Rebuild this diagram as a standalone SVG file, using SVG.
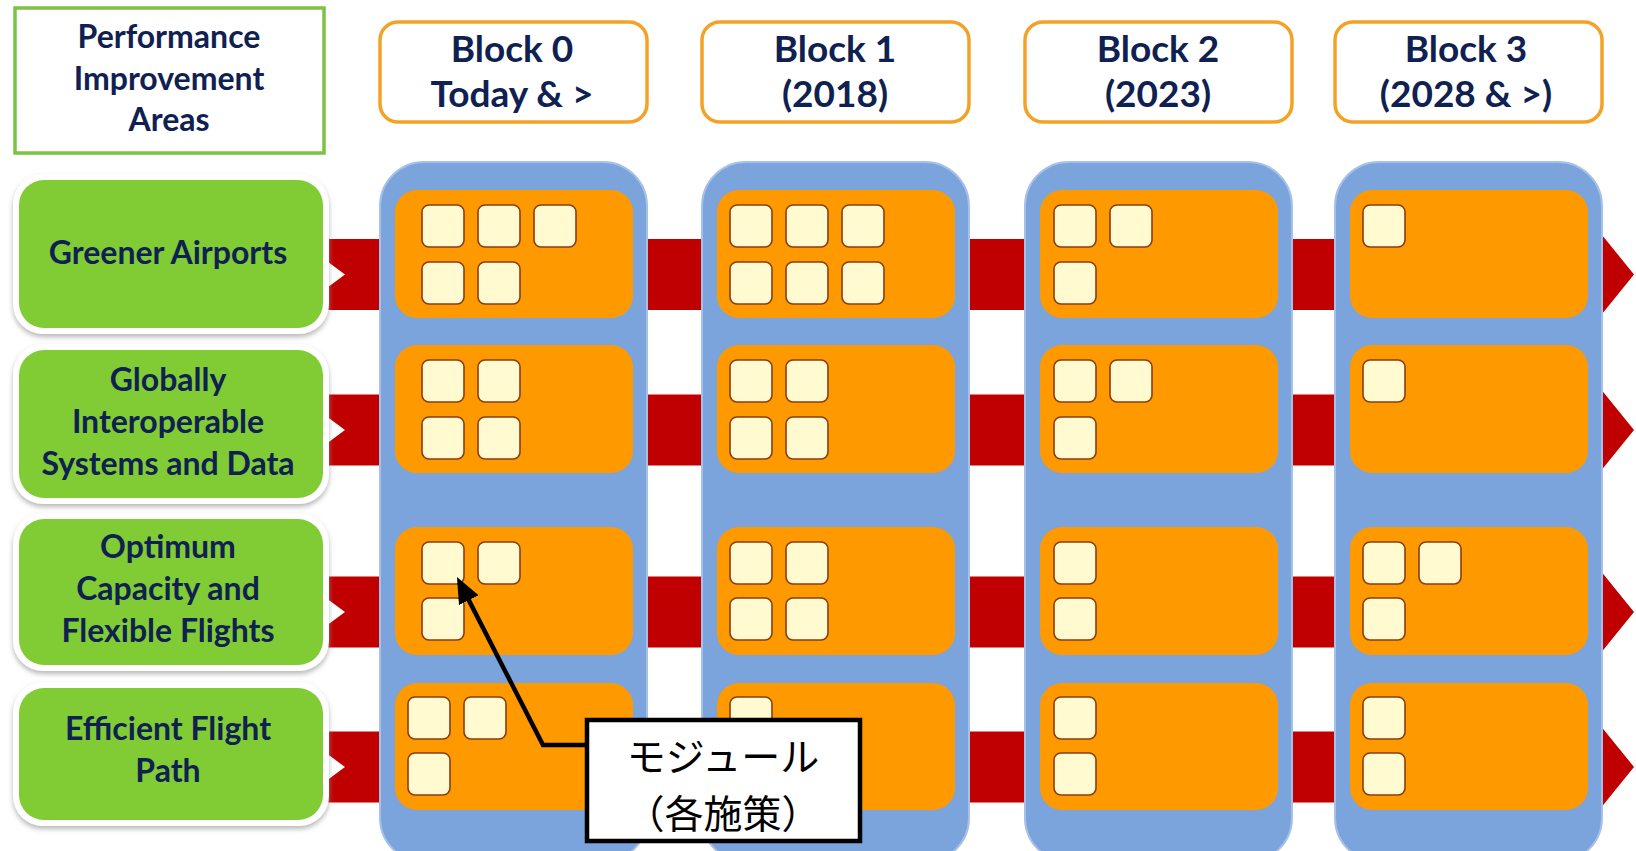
<svg xmlns="http://www.w3.org/2000/svg" xmlns:xlink="http://www.w3.org/1999/xlink" width="1636" height="851" viewBox="0 0 1636 851">
<defs>
<style>
.band{fill:#c00000}
.col{fill:#7ba4dd;stroke:#a6c1e8;stroke-width:2}
.panel{fill:#ff9900}
.hdr{fill:#ffffff;stroke:#f3a226;stroke-width:3.5}
.area{fill:#81cc35}
.rim{fill:#ffffff;filter:url(#sh)}
.t{font-family:Lato,"Open Sans","Liberation Sans",sans-serif;font-weight:700;fill:#0f2150;text-anchor:middle}
.lbl{font-size:32px}
.hd{font-size:37px}
.jp{font-family:"Noto Sans CJK JP","Noto Sans",sans-serif;font-size:39px;fill:#000;text-anchor:middle}
</style>
<filter id="sh" x="-10%" y="-10%" width="120%" height="125%">
<feDropShadow dx="0" dy="3" stdDeviation="2.5" flood-color="#9a9a9a" flood-opacity="0.7"/>
</filter>
<rect id="m" x="0" y="0" width="42" height="42" rx="7" fill="#fffad0" stroke="#8a3d12" stroke-width="1.6"/>
<marker id="ah" markerUnits="userSpaceOnUse" markerWidth="28" markerHeight="24" refX="11" refY="11" orient="auto">
<path d="M0,0 L26,11 L0,22 Z" fill="#000"/>
</marker>
</defs>
<rect width="1636" height="851" fill="#ffffff"/>

<g id="connectors">
<path class="band" d="M297,239 L1602,239 L1602,235 L1634,274.5 L1602,314 L1602,310 L297,310 L345,274.5 Z"/>
<path class="band" d="M297,394.5 L1602,394.5 L1602,390.5 L1634,430 L1602,469.5 L1602,465.5 L297,465.5 L345,430 Z"/>
<path class="band" d="M297,576.5 L1602,576.5 L1602,572.5 L1634,612 L1602,651.5 L1602,647.5 L297,647.5 L345,612 Z"/>
<path class="band" d="M297,731.5 L1602,731.5 L1602,727.5 L1634,767 L1602,806.5 L1602,802.5 L297,802.5 L345,767 Z"/>
</g>

<g id="area-title">
<rect x="15" y="8" width="309" height="145" fill="#ffffff" stroke="#7cc243" stroke-width="3.5"/>
<text class="t lbl" x="169" y="48">Performance</text>
<text class="t lbl" x="169" y="90">Improvement</text>
<text class="t lbl" x="169" y="131">Areas</text>
</g>

<g id="area-greener">
<rect class="rim" x="13" y="174" width="316" height="160" rx="30"/>
<rect class="area" x="19" y="180" width="304" height="148" rx="25"/>
<text class="t lbl" x="168" y="264">Greener Airports</text>
</g>
<g id="area-global">
<rect class="rim" x="13" y="344" width="316" height="160" rx="30"/>
<rect class="area" x="19" y="350" width="304" height="148" rx="25"/>
<text class="t lbl" x="168" y="391">Globally</text>
<text class="t lbl" x="168" y="433">Interoperable</text>
<text class="t lbl" x="168" y="475">Systems and Data</text>
</g>
<g id="area-capacity">
<rect class="rim" x="13" y="513" width="316" height="158" rx="30"/>
<rect class="area" x="19" y="519" width="304" height="146" rx="25"/>
<text class="t lbl" x="168" y="558">Optimum</text>
<text class="t lbl" x="168" y="600">Capacity and</text>
<text class="t lbl" x="168" y="642">Flexible Flights</text>
</g>
<g id="area-flight">
<rect class="rim" x="13" y="682" width="316" height="144" rx="30"/>
<rect class="area" x="19" y="688" width="304" height="132" rx="25"/>
<text class="t lbl" x="168" y="740">Efficient Flight</text>
<text class="t lbl" x="168" y="782">Path</text>
</g>

<g id="block0">
<rect class="hdr" x="380" y="22" width="267" height="100" rx="18"/>
<text class="t hd" x="512" y="62">Block 0</text>
<text class="t hd" x="512" y="107">Today &amp; &gt;</text>
<rect class="col" x="380" y="162" width="267" height="700" rx="44"/>
<rect class="panel" x="395" y="190" width="238" height="128" rx="22"/>
<rect class="panel" x="395" y="345" width="238" height="128" rx="22"/>
<rect class="panel" x="395" y="527" width="238" height="128" rx="22"/>
<rect class="panel" x="395" y="683" width="238" height="127" rx="22"/>
<use href="#m" x="422" y="205"/><use href="#m" x="478" y="205"/><use href="#m" x="534" y="205"/>
<use href="#m" x="422" y="262"/><use href="#m" x="478" y="262"/>
<use href="#m" x="422" y="360"/><use href="#m" x="478" y="360"/>
<use href="#m" x="422" y="417"/><use href="#m" x="478" y="417"/>
<use href="#m" x="422" y="542"/><use href="#m" x="478" y="542"/>
<use href="#m" x="422" y="598"/>
<use href="#m" x="408" y="697"/><use href="#m" x="464" y="697"/>
<use href="#m" x="408" y="753"/>
</g>

<g id="block1">
<rect class="hdr" x="702" y="22" width="267" height="100" rx="18"/>
<text class="t hd" x="835" y="62">Block 1</text>
<text class="t hd" x="835" y="107">(2018)</text>
<rect class="col" x="702" y="162" width="267" height="700" rx="44"/>
<rect class="panel" x="717" y="190" width="238" height="128" rx="22"/>
<rect class="panel" x="717" y="345" width="238" height="128" rx="22"/>
<rect class="panel" x="717" y="527" width="238" height="128" rx="22"/>
<rect class="panel" x="717" y="683" width="238" height="127" rx="22"/>
<use href="#m" x="730" y="205"/><use href="#m" x="786" y="205"/><use href="#m" x="842" y="205"/>
<use href="#m" x="730" y="262"/><use href="#m" x="786" y="262"/><use href="#m" x="842" y="262"/>
<use href="#m" x="730" y="360"/><use href="#m" x="786" y="360"/>
<use href="#m" x="730" y="417"/><use href="#m" x="786" y="417"/>
<use href="#m" x="730" y="542"/><use href="#m" x="786" y="542"/>
<use href="#m" x="730" y="598"/><use href="#m" x="786" y="598"/>
<use href="#m" x="730" y="697"/>
</g>

<g id="block2">
<rect class="hdr" x="1025" y="22" width="267" height="100" rx="18"/>
<text class="t hd" x="1158" y="62">Block 2</text>
<text class="t hd" x="1158" y="107">(2023)</text>
<rect class="col" x="1025" y="162" width="267" height="700" rx="44"/>
<rect class="panel" x="1040" y="190" width="238" height="128" rx="22"/>
<rect class="panel" x="1040" y="345" width="238" height="128" rx="22"/>
<rect class="panel" x="1040" y="527" width="238" height="128" rx="22"/>
<rect class="panel" x="1040" y="683" width="238" height="127" rx="22"/>
<use href="#m" x="1054" y="205"/><use href="#m" x="1110" y="205"/>
<use href="#m" x="1054" y="262"/>
<use href="#m" x="1054" y="360"/><use href="#m" x="1110" y="360"/>
<use href="#m" x="1054" y="417"/>
<use href="#m" x="1054" y="542"/>
<use href="#m" x="1054" y="598"/>
<use href="#m" x="1054" y="697"/>
<use href="#m" x="1054" y="753"/>
</g>

<g id="block3">
<rect class="hdr" x="1335" y="22" width="267" height="100" rx="18"/>
<text class="t hd" x="1466" y="62">Block 3</text>
<text class="t hd" x="1466" y="107">(2028 &amp; &gt;)</text>
<rect class="col" x="1335" y="162" width="267" height="700" rx="44"/>
<rect class="panel" x="1350" y="190" width="238" height="128" rx="22"/>
<rect class="panel" x="1350" y="345" width="238" height="128" rx="22"/>
<rect class="panel" x="1350" y="527" width="238" height="128" rx="22"/>
<rect class="panel" x="1350" y="683" width="238" height="127" rx="22"/>
<use href="#m" x="1363" y="205"/>
<use href="#m" x="1363" y="360"/>
<use href="#m" x="1363" y="542"/><use href="#m" x="1419" y="542"/>
<use href="#m" x="1363" y="598"/>
<use href="#m" x="1363" y="697"/>
<use href="#m" x="1363" y="753"/>
</g>

<g id="callout-leader">
<polyline points="589,745 543,745 463.8,590.4" fill="none" stroke="#000" stroke-width="4.5" stroke-linejoin="miter" marker-end="url(#ah)"/>
</g>

<g id="callout">
<rect x="587" y="720" width="273" height="121" fill="#ffffff" stroke="#000" stroke-width="4.5"/>
<text class="jp" x="723" y="771">モジュール</text>
<text class="jp" x="723" y="828">（各施策）</text>
</g>
</svg>
